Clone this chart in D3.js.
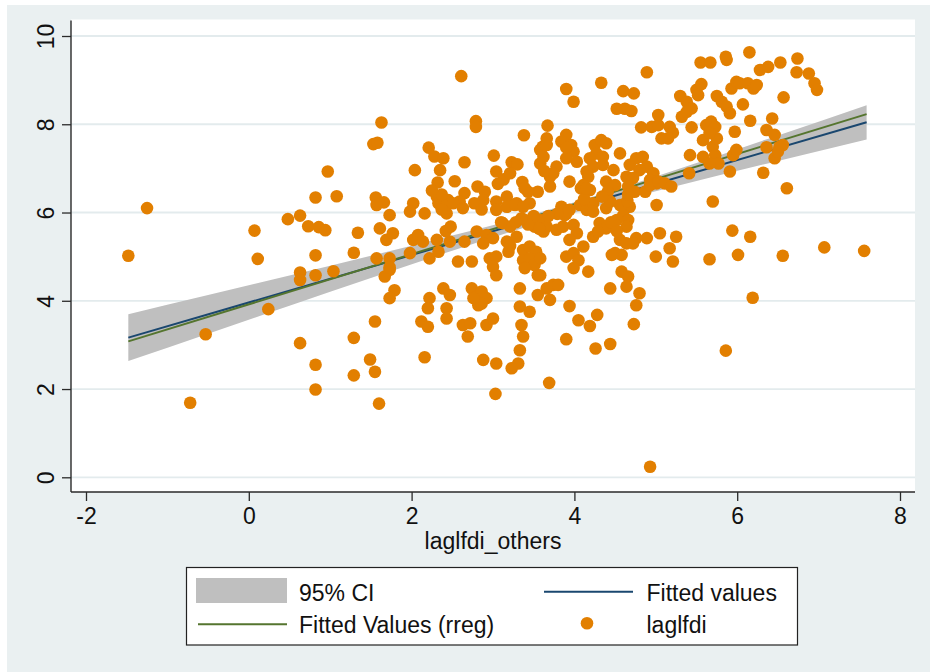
<!DOCTYPE html>
<html><head><meta charset="utf-8">
<script src="https://cdn.jsdelivr.net/npm/d3@7"></script>
<style>
html,body{margin:0;padding:0;background:#fff;}
svg{display:block;}
text{font-family:"Liberation Sans",Arial,Helvetica,sans-serif;fill:#111;}
</style>
</head><body>
<svg id="chart" width="930" height="672"></svg>
<script>
// ---- data ----
const laglfdiOthers = [
-1.48,-1.25,0.07,0.11,0.48,0.63,0.73,0.82,0.97,1.08,
0.86,0.94,1.34,0.82,1.29,0.63,0.63,0.82,1.04,0.24,
-0.53,0.63,0.82,0.82,-0.72,1.29,1.29,2.61,1.63,2.79,
2.79,1.53,1.58,3.38,3.67,2.21,2.28,2.39,2.65,2.04,
2.35,2.32,2.53,3.01,3.04,3.23,3.30,3.13,3.21,3.36,
3.61,3.66,3.58,3.70,2.81,2.90,2.65,3.55,3.43,1.56,
1.66,2.02,2.31,2.33,2.45,2.59,3.04,3.17,3.29,3.45,
1.57,1.98,2.16,2.43,2.43,2.51,2.63,2.88,3.04,3.17,
3.27,3.37,1.61,1.73,1.69,1.77,1.57,1.73,1.73,1.67,
1.98,1.79,1.73,2.02,2.08,2.14,2.22,2.33,2.31,2.47,
2.65,2.57,2.74,2.80,2.92,3.00,2.88,3.12,3.21,3.17,
3.29,2.96,3.04,3.00,3.04,3.19,3.37,3.45,3.53,3.37,
3.45,3.51,3.39,3.55,3.39,3.51,3.62,3.62,3.33,3.33,
3.45,3.55,3.66,2.39,2.47,2.22,2.20,2.43,2.43,2.74,
2.82,2.86,2.92,2.82,2.86,2.76,2.12,2.20,2.63,2.72,
2.69,2.92,3.00,3.35,3.37,3.33,3.31,3.23,2.88,3.04,
2.16,1.55,1.49,1.55,3.03,3.69,1.60,4.89,4.33,3.90,
3.99,5.55,5.67,5.86,5.87,4.60,4.73,4.52,4.62,4.70,
5.30,5.38,5.44,5.50,5.56,5.52,5.75,5.81,5.87,5.93,
5.99,5.32,5.38,5.03,5.97,5.44,4.82,4.95,5.03,5.17,
5.21,5.15,5.07,3.90,3.84,5.62,5.68,5.73,5.58,5.70,
5.75,5.66,3.58,3.66,3.62,3.96,3.99,3.90,4.03,3.78,
3.74,3.70,4.25,4.33,4.39,4.27,4.35,4.19,4.23,4.15,
4.35,4.48,4.56,4.68,4.76,4.84,4.89,4.80,4.97,4.93,
5.01,4.64,4.72,4.17,4.11,4.19,4.39,4.50,4.41,3.94,
4.66,4.74,4.87,4.93,5.03,5.11,5.19,5.70,5.42,5.58,
5.73,5.77,5.66,5.41,5.91,5.95,5.99,3.84,3.94,4.07,
4.15,4.23,4.39,4.44,4.56,4.68,5.01,3.88,3.58,3.66,
3.78,3.86,3.99,4.03,3.94,4.11,4.23,4.31,4.39,4.29,
4.52,4.60,4.66,4.64,4.56,4.64,4.76,4.89,4.72,4.50,
4.58,4.46,3.90,3.99,4.05,3.99,4.17,3.58,3.58,4.58,
4.66,4.64,4.80,4.76,4.44,5.00,5.05,5.17,5.25,5.21,
5.66,5.94,6.01,3.74,3.80,3.70,3.94,4.05,4.19,4.28,
3.90,4.26,4.44,4.73,5.86,4.93,6.15,6.28,6.38,6.53,
6.74,6.73,6.88,6.95,6.98,6.03,6.13,6.20,6.24,6.07,
5.91,6.57,6.16,6.43,6.36,6.46,6.36,6.52,6.56,6.46,
6.50,6.32,6.61,6.16,6.56,7.07,7.56,6.19,4.23,4.45,
4.52,4.65,4.66,4.34,4.08,4.12,3.90,3.79,3.68,3.57,
3.50,3.43,3.35,3.28,3.10,3.21,3.06,3.39,3.63,3.90,
4.15,2.37,2.77,2.86,2.25,2.37,2.42,2.48,1.73
];
const laglfdi = [
5.02,6.10,5.59,4.95,5.85,5.93,5.69,6.34,6.93,6.37,
5.67,5.60,5.54,5.03,5.09,4.64,4.47,4.58,4.67,3.81,
3.24,3.04,2.55,1.99,1.69,3.16,2.31,9.09,8.04,8.07,
7.94,7.55,7.58,7.75,7.97,7.47,7.27,7.23,7.14,6.96,
6.96,6.68,6.71,7.29,6.93,7.14,7.09,6.75,6.89,6.69,
7.49,7.68,7.11,6.81,6.59,6.47,6.44,6.47,6.47,6.34,
6.23,6.21,6.36,6.21,6.28,6.25,6.25,6.36,6.21,6.21,
6.17,6.02,5.98,6.17,5.98,6.21,6.10,6.28,6.06,6.13,
6.17,6.13,5.64,5.94,5.38,5.53,4.96,4.96,4.70,4.55,
5.08,4.24,4.06,5.38,5.49,5.34,4.96,5.11,5.38,5.34,
5.34,4.89,4.89,5.57,5.49,5.42,5.30,5.76,5.68,5.34,
5.45,4.96,5.00,4.77,4.58,5.11,5.15,5.23,5.11,4.92,
4.96,4.81,4.74,4.58,5.83,5.68,5.76,5.57,4.28,3.87,
3.75,4.13,4.28,4.28,4.13,4.06,3.83,3.83,3.60,4.28,
4.13,4.21,4.06,3.90,3.94,4.06,3.53,3.41,3.45,3.49,
3.19,3.45,3.60,3.45,3.19,2.88,2.58,2.47,2.66,2.58,
2.72,3.53,2.67,2.39,1.89,2.14,1.67,9.18,8.94,8.80,
8.51,9.40,9.40,9.53,9.46,8.75,8.70,8.35,8.35,8.30,
8.64,8.51,8.36,8.78,8.91,8.66,8.64,8.51,8.40,8.81,
8.96,8.17,8.28,8.21,7.83,7.93,7.93,7.94,7.98,7.94,
7.81,7.68,7.68,7.76,7.61,7.98,8.06,7.94,7.64,7.49,
7.68,7.80,7.42,7.53,7.26,7.53,7.38,7.23,7.15,7.04,
6.89,6.59,7.53,7.64,7.57,7.34,7.26,7.23,7.04,6.93,
7.08,6.96,7.34,7.08,7.23,7.26,7.04,6.96,6.89,6.74,
6.66,6.81,6.78,6.81,6.62,6.51,6.70,6.62,6.47,6.70,
6.59,6.47,6.47,6.62,6.70,6.66,6.59,6.25,7.30,7.26,
7.30,7.11,7.11,6.89,6.93,7.30,7.42,6.13,6.06,6.17,
6.06,6.21,6.10,6.25,6.17,6.13,6.17,5.94,5.83,5.68,
5.61,5.68,5.72,5.53,5.38,5.23,5.45,5.76,5.64,5.57,
5.83,5.94,5.83,5.68,5.38,5.30,5.42,5.42,5.30,5.08,
5.04,5.04,5.00,5.08,4.92,4.74,4.66,4.96,4.58,4.66,
4.55,4.32,4.17,3.90,4.28,5.00,5.53,5.19,5.45,4.89,
4.94,5.59,5.04,4.36,4.36,4.02,3.88,3.56,3.43,3.68,
3.13,2.92,3.02,3.47,2.87,0.24,9.63,9.23,9.30,9.40,
9.49,9.18,9.15,8.93,8.78,8.93,8.93,8.81,8.89,8.45,
8.25,8.61,8.08,8.13,7.87,7.76,7.48,7.49,7.53,7.23,
7.38,6.90,6.55,5.45,5.02,5.21,5.13,4.07,6.02,5.78,
5.58,6.26,6.41,6.36,6.55,6.31,5.97,5.97,5.92,5.63,
5.92,5.73,5.87,5.78,5.78,5.24,6.65,6.55,6.94,7.47,
6.55,6.41,6.21,6.07,6.50,6.07,5.58,5.68,4.76
];
const xTicks = [-2, 0, 2, 4, 6, 8];
const xTickLabels = ["-2", "0", "2", "4", "6", "8"];
const yTicks = [0, 2, 4, 6, 8, 10];
const yTickLabels = ["0", "2", "4", "6", "8", "10"];
// 95% CI band of the OLS fit, read at several x positions
const ciX     = [-1.48, -0.5, 0.5, 1.5, 2.5, 3.5, 4.5, 5.5, 6.5, 7.59];
const ciLower = [2.635, 3.255, 3.887, 4.515, 5.134, 5.725, 6.247, 6.717, 7.169, 7.655];
const ciUpper = [3.695, 4.129, 4.573, 5.021, 5.478, 5.963, 6.517, 7.123, 7.747, 8.433];
// fitted lines (end points)
const olsX  = [-1.48, 7.59];
const olsY  = [3.165, 8.044];
const rregX = [-1.48, 7.59];
const rregY = [3.08, 8.23];
const xTitle = "laglfdi_others";
const legendLabels = ["95% CI", "Fitted values", "Fitted Values (rreg)", "laglfdi"];

// ---- drawing ----
const C = {bg:"#eaf0f1", grid:"#e3ebed", ci:"#bfbfbf", ols:"#1a476f", rreg:"#55752f", dot:"#e27f00", axis:"#2a2a2a"};
const FONT = '"Liberation Sans",Arial,Helvetica,sans-serif';
const svg = d3.select("#chart");
svg.append("rect").attr("x",7).attr("y",5).attr("width",923).attr("height",667).attr("fill",C.bg);

const P = {left:71, top:19.5, right:915, bottom:492};
svg.append("rect").attr("x",P.left).attr("y",P.top)
  .attr("width",P.right-P.left).attr("height",P.bottom-P.top).attr("fill","#fff");

const x = d3.scaleLinear().domain([-2, 8]).range([86, 900]);
const y = d3.scaleLinear().domain([0, 10]).range([477.3, 36]);

// gridlines
svg.append("g").selectAll("line").data(yTicks).join("line")
  .attr("x1",P.left).attr("x2",P.right)
  .attr("y1",d=>y(d)).attr("y2",d=>y(d))
  .attr("stroke",C.grid).attr("stroke-width",1.8);

// CI band
const ciData = ciX.map((d,i)=>({x:d, lo:ciLower[i], hi:ciUpper[i]}));
svg.append("path").datum(ciData)
  .attr("d", d3.area().x(d=>x(d.x)).y0(d=>y(d.lo)).y1(d=>y(d.hi)).curve(d3.curveMonotoneX))
  .attr("fill",C.ci);

// fitted lines
const lineGen = d3.line().x(d=>x(d[0])).y(d=>y(d[1]));
svg.append("path").datum(olsX.map((d,i)=>[d,olsY[i]]))
  .attr("d",lineGen).attr("fill","none").attr("stroke",C.ols).attr("stroke-width",2);
svg.append("path").datum(rregX.map((d,i)=>[d,rregY[i]]))
  .attr("d",lineGen).attr("fill","none").attr("stroke",C.rreg).attr("stroke-width",2);

// points
svg.append("g").selectAll("circle").data(laglfdiOthers.map((d,i)=>[d,laglfdi[i]])).join("circle")
  .attr("cx",d=>x(d[0])).attr("cy",d=>y(d[1])).attr("r",6.3).attr("fill",C.dot);

// axes
const yAxis = svg.append("g").attr("transform",`translate(${P.left},0)`)
  .call(d3.axisLeft(y).tickValues(yTicks).tickSize(9).tickFormat((d,i)=>yTickLabels[i]));
yAxis.select(".domain").remove();
yAxis.selectAll(".tick line").attr("stroke",C.axis).attr("stroke-width",1.3);
yAxis.selectAll(".tick text")
  .attr("x",null).attr("dy",null)
  .attr("transform","translate(-17.5,0) rotate(-90)")
  .attr("text-anchor","middle")
  .style("font-size","23px").style("font-family",FONT).attr("fill","#111");

const xAxis = svg.append("g").attr("transform",`translate(0,${P.bottom})`)
  .call(d3.axisBottom(x).tickValues(xTicks).tickSize(9).tickFormat((d,i)=>xTickLabels[i]));
xAxis.select(".domain").remove();
xAxis.selectAll(".tick line").attr("stroke",C.axis).attr("stroke-width",1.3);
xAxis.selectAll(".tick text")
  .attr("y",31.5).attr("dy",null)
  .style("font-size","23px").style("font-family",FONT).attr("fill","#111");

svg.append("line").attr("x1",P.left).attr("x2",P.left).attr("y1",P.top+1).attr("y2",P.bottom)
  .attr("stroke",C.axis).attr("stroke-width",1.4);
svg.append("line").attr("x1",P.left).attr("x2",P.right).attr("y1",P.bottom).attr("y2",P.bottom)
  .attr("stroke",C.axis).attr("stroke-width",1.4);

svg.append("text").attr("x",(P.left+P.right)/2).attr("y",548.5)
  .attr("text-anchor","middle").style("font-size","23px").text(xTitle);

// legend
const L = svg.append("g");
L.append("rect").attr("x",186.5).attr("y",567.5).attr("width",611).attr("height",77.5)
  .attr("fill","#fff").attr("stroke","#222").attr("stroke-width",1.2);
L.append("rect").attr("x",196).attr("y",578).attr("width",91).attr("height",25).attr("fill",C.ci);
L.append("line").attr("x1",544).attr("x2",633).attr("y1",591.7).attr("y2",591.7)
  .attr("stroke",C.ols).attr("stroke-width",2);
L.append("line").attr("x1",198).attr("x2",287).attr("y1",624.3).attr("y2",624.3)
  .attr("stroke",C.rreg).attr("stroke-width",2);
L.append("circle").attr("cx",587).attr("cy",623.3).attr("r",6.3).attr("fill",C.dot);
const lpos = [[299,600.7],[646.5,600.7],[299,633],[646.5,633]];
legendLabels.forEach((t,i)=>{
  L.append("text").attr("x",lpos[i][0]).attr("y",lpos[i][1]).style("font-size","23px").text(t);
});
</script>
</body></html>
